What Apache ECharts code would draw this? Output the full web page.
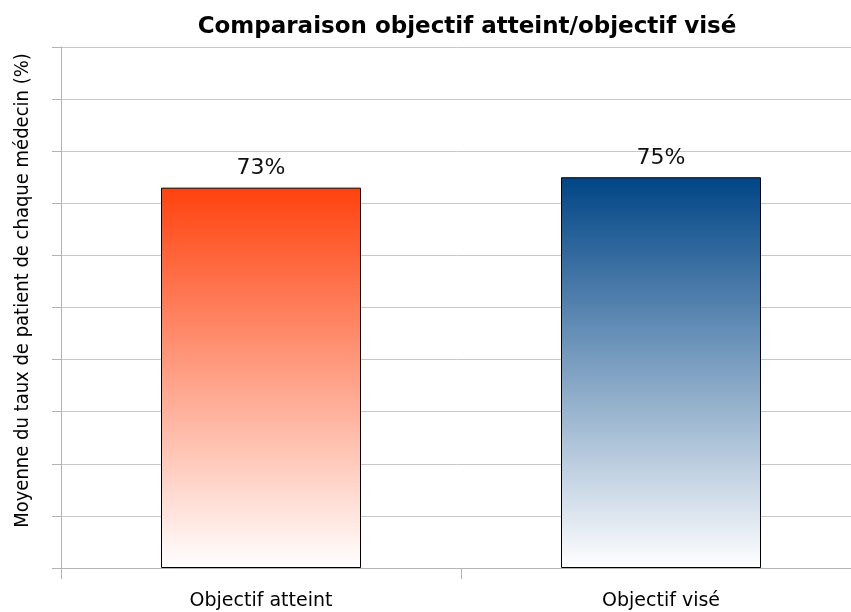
<!DOCTYPE html>
<html>
<head>
<meta charset="utf-8">
<script src="https://cdn.jsdelivr.net/npm/echarts@6/dist/echarts.min.js"></script>
<style>
  html, body { margin: 0; padding: 0; background: #fff; }
  #chart { width: 851px; height: 612px; }
</style>
</head>
<body>
<div id="chart"></div>
<script>
// chart data
const categories = ["Objectif atteint", "Objectif visé"];
const values = [73, 75];

const topColors = ["#ff420e", "#004586"];

const chart = echarts.init(document.getElementById("chart"));

chart.setOption({
  animation: false,
  title: {
    text: "Comparaison objectif atteint/objectif visé",
    left: 462,
    textAlign: "center",
    top: 11,
    textStyle: {
      fontFamily: "DejaVu Sans",
      fontWeight: "bold",
      fontSize: 23,
      color: "#000"
    }
  },
  grid: {
    left: 61,
    width: 800,
    top: 47,
    bottom: 44,
    outerBoundsMode: "none"
  },
  xAxis: {
    type: "category",
    data: categories,
    axisLine: { lineStyle: { color: "#b3b3b3" } },
    axisTick: { show: true, length: 11, lineStyle: { color: "#b3b3b3" } },
    axisLabel: {
      margin: 24,
      fontFamily: "DejaVu Sans",
      fontSize: 19,
      color: "#000"
    }
  },
  yAxis: {
    type: "value",
    min: 0,
    max: 100,
    interval: 10,
    name: "Moyenne du taux de patient de chaque médecin (%)",
    nameLocation: "middle",
    nameGap: 28,
    nameTextStyle: {
      fontFamily: "DejaVu Sans Condensed",
      fontSize: 20,
      color: "#000",
      padding: [0, 0, 0, 34]
    },
    axisLine: { show: true, lineStyle: { color: "#b3b3b3" } },
    axisTick: { show: true, length: 9, lineStyle: { color: "#b3b3b3" } },
    axisLabel: { show: false },
    splitLine: { lineStyle: { color: "#c8c8c8" } }
  },
  series: [{
    type: "bar",
    barWidth: "50%",
    data: values.map((v, i) => ({
      value: v,
      itemStyle: {
        color: new echarts.graphic.LinearGradient(0, 0, 0, 1, [
          { offset: 0, color: topColors[i] },
          { offset: 1, color: "#ffffff" }
        ])
      }
    })),
    itemStyle: { borderColor: "#000", borderWidth: 1 },
    label: {
      show: true,
      position: "top",
      distance: 8,
      formatter: "{c}%",
      fontFamily: "DejaVu Sans",
      fontSize: 22,
      color: "#111"
    }
  }]
});
</script>
</body>
</html>
